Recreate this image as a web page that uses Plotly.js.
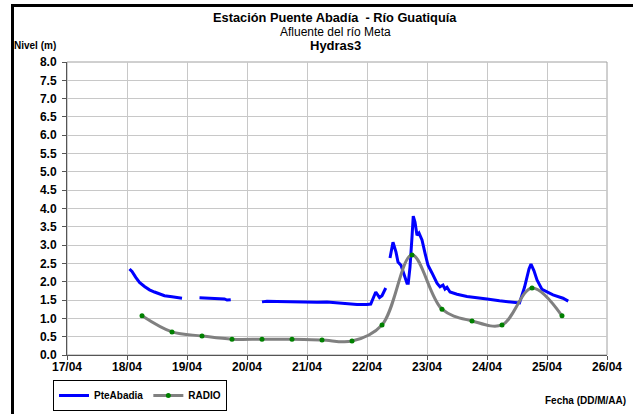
<!DOCTYPE html>
<html><head><meta charset="utf-8">
<script src="https://cdn.plot.ly/plotly-3.0.1.min.js"></script>
<style>html,body{margin:0;padding:0;background:#fff;}#chart{width:633px;height:414px;}</style>
</head><body><div id="chart"></div>
<script>
const pteTimes = [
"2008-04-18 01:00","2008-04-18 02:00","2008-04-18 03:30","2008-04-18 05:00","2008-04-18 07:00","2008-04-18 09:00","2008-04-18 11:00","2008-04-18 13:00","2008-04-18 15:00","2008-04-18 18:00","2008-04-18 22:00",
"2008-04-19 01:00",
"2008-04-19 05:00","2008-04-19 09:00","2008-04-19 13:00","2008-04-19 15:00","2008-04-19 16:00","2008-04-19 17:30",
"2008-04-20 00:00",
"2008-04-20 06:00","2008-04-20 08:00","2008-04-20 12:00","2008-04-20 16:00","2008-04-20 20:00","2008-04-21 00:00","2008-04-21 04:00","2008-04-21 08:00","2008-04-21 12:00","2008-04-21 16:00","2008-04-21 20:00","2008-04-22 00:00","2008-04-22 01:30","2008-04-22 03:30","2008-04-22 05:00","2008-04-22 06:00","2008-04-22 07:30",
"2008-04-22 08:30",
"2008-04-22 09:12","2008-04-22 10:24","2008-04-22 11:36","2008-04-22 12:24","2008-04-22 13:36","2008-04-22 14:48","2008-04-22 16:00","2008-04-22 16:30","2008-04-22 17:12","2008-04-22 18:00","2008-04-22 18:30","2008-04-22 19:12","2008-04-22 20:00","2008-04-22 20:48","2008-04-22 22:00","2008-04-22 23:12","2008-04-23 00:24","2008-04-23 02:00","2008-04-23 04:00","2008-04-23 05:12","2008-04-23 06:24","2008-04-23 07:12","2008-04-23 08:00","2008-04-23 09:12","2008-04-23 12:00","2008-04-23 16:00","2008-04-23 20:00","2008-04-24 00:00","2008-04-24 05:00","2008-04-24 10:00","2008-04-24 13:00","2008-04-24 15:00","2008-04-24 16:48","2008-04-24 17:36","2008-04-24 18:48","2008-04-24 20:00","2008-04-24 22:00","2008-04-25 02:24","2008-04-25 06:24","2008-04-25 08:30"
];
const pteValues = [
2.35,2.28,2.12,1.98,1.87,1.78,1.72,1.66,1.62,1.59,1.55,
null,
1.56,1.55,1.53,1.53,1.50,1.51,
null,
1.45,1.47,1.46,1.45,1.46,1.45,1.44,1.45,1.42,1.40,1.38,1.38,1.39,1.72,1.57,1.62,1.83,
null,
2.65,3.08,2.81,2.54,2.45,2.18,1.96,1.96,2.40,3.22,3.79,3.63,3.27,3.33,3.14,2.78,2.45,2.24,1.96,1.86,1.91,1.80,1.85,1.72,1.66,1.60,1.57,1.53,1.48,1.44,1.42,1.85,2.35,2.48,2.30,2.05,1.79,1.64,1.55,1.47
];
const radioTimes = ["2008-04-18 06:00","2008-04-18 18:00","2008-04-19 06:00","2008-04-19 18:00","2008-04-20 06:00","2008-04-20 18:00","2008-04-21 06:00","2008-04-21 18:00","2008-04-22 06:00","2008-04-22 18:00","2008-04-23 06:00","2008-04-23 18:00","2008-04-24 06:00","2008-04-24 18:00","2008-04-25 06:00"];
const radioValues = [1.07,0.63,0.52,0.43,0.43,0.43,0.41,0.38,0.82,2.73,1.25,0.93,0.82,1.83,1.07];
const seriesNames = ["PteAbadia","RADIO"];
const titleLines = ["Estación Puente Abadía  - Río Guatiquía","Afluente del río Meta","Hydras3"];
const yTitle = "Nivel (m)";
const xTitle = "Fecha (DD/M/AA)";

const F = "Liberation Sans, Arial, sans-serif";
const W = 633, H = 414, L = 67, R = 26, T = 62, B = 59;
const pw = W - L - R, ph = H - T - B;
const px = x => (x - L) / pw;
const py = y => (H - B - y) / ph;

const traces = [
  {x: pteTimes, y: pteValues, name: seriesNames[0], type: "scatter", mode: "lines",
   line: {color: "#0000FF", width: 3}, connectgaps: false},
  {x: radioTimes, y: radioValues, name: seriesNames[1], type: "scatter", mode: "lines+markers",
   line: {color: "#808080", width: 3, shape: "spline", smoothing: 1},
   marker: {color: "#008000", size: 5}}
];

const ann = (text, x, y, size, xanchor) => ({text, xref: "paper", yref: "paper", x: px(x), y: py(y),
  xanchor: xanchor || "center", yanchor: "middle", showarrow: false, font: {family: F, size, color: "#000"}});

const layout = {
  width: W, height: H,
  margin: {l: L, r: R, t: T, b: B, pad: 0, autoexpand: false},
  paper_bgcolor: "#fff", plot_bgcolor: "#fff",
  font: {family: F, size: 11, color: "#000"},
  showlegend: true,
  legend: {orientation: "h", x: px(53), y: py(380), xanchor: "left", yanchor: "top",
    bordercolor: "#000", borderwidth: 1, font: {family: F, size: 10, color: "#000", weight: 700},
    tracegroupgap: 0, itemwidth: 30},
  xaxis: {type: "date", range: ["2008-04-17", "2008-04-26"], dtick: 86400000, tick0: "2008-04-17",
    tickformat: "%d/%m", tickprefix: "<b>", ticksuffix: "</b>", showgrid: true, gridcolor: "#c8c8c8", gridwidth: 1,
    showline: true, linecolor: "#555", linewidth: 1, ticks: "outside", ticklen: 4, tickcolor: "#555",
    tickfont: {family: F, size: 12, color: "#000"}, ticklabelstandoff: -3,
    mirror: false, zeroline: false, automargin: false},
  yaxis: {range: [0, 8], dtick: 0.5, tickformat: ".1f", tickprefix: "<b>", ticksuffix: "</b>", showgrid: true, gridcolor: "#c8c8c8", gridwidth: 1,
    showline: true, linecolor: "#555", linewidth: 1, ticks: "outside", ticklen: 4, tickcolor: "#555",
    tickfont: {family: F, size: 12, color: "#000"}, ticklabelstandoff: 3, zeroline: false, automargin: false},
  shapes: [
    {type: "rect", xref: "paper", yref: "paper", x0: 0, x1: 1, y0: 0, y1: 1, line: {color: "#a0a0a0", width: 1}, layer: "below"},
    {type: "line", xref: "paper", yref: "paper", x0: px(11), x1: px(640), y0: py(5.5), y1: py(5.5), line: {color: "#000", width: 3}},
    {type: "line", xref: "paper", yref: "paper", x0: px(12.5), x1: px(12.5), y0: py(4), y1: py(420), line: {color: "#000", width: 3}}
  ],
  annotations: [
    ann("<b>" + titleLines[0] + "</b>", 335, 18, 12.8),
    ann(titleLines[1], 335, 32, 12),
    ann("<b>" + titleLines[2] + "</b>", 335, 45, 13),
    ann("<b>" + yTitle + "</b>", 12, 45, 10, "left"),
    ann("<b>" + xTitle + "</b>", 628, 400, 10, "right")
  ]
};
Plotly.newPlot("chart", traces, layout, {displayModeBar: false, staticPlot: true});
</script></body></html>
